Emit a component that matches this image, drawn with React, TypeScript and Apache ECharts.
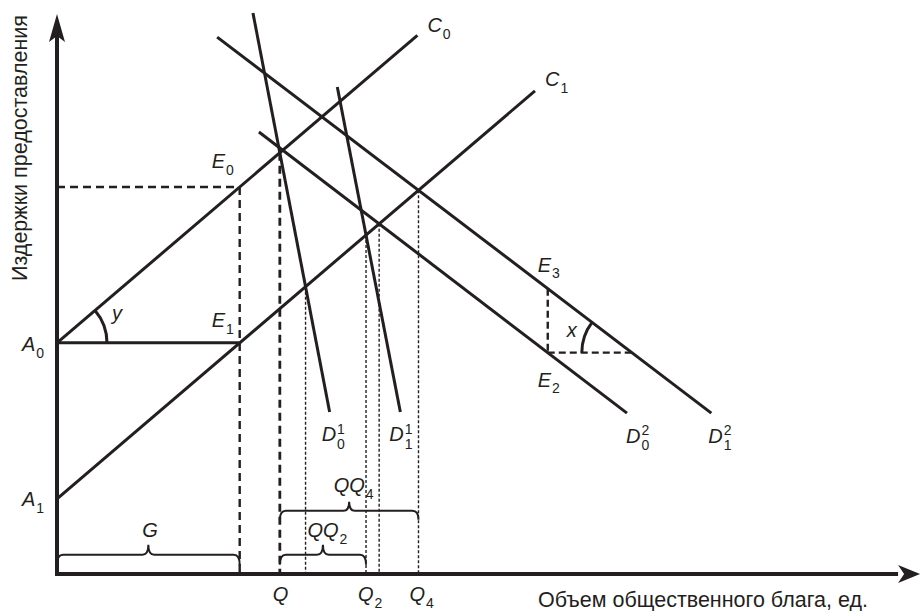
import React, { useEffect, useRef } from "react";
import * as echarts from "echarts";

type Pt = [number, number];

// ---------- values (x: quantity, y: cost) ----------
const interceptA0 = 42.1;
const interceptA1 = 13.7;
const costC0: Pt[] = [[0, 42.1], [42.3, 98.1]];
const costC1: Pt[] = [[0, 13.7], [56.1, 88.0]];
const demandD01: Pt[] = [[23.0, 102.2], [32.0, 29.5]];
const demandD11: Pt[] = [[32.9, 88.7], [40.3, 29.5]];
const demandD02: Pt[] = [[23.7, 80.5], [66.9, 29.3]];
const demandD12: Pt[] = [[18.8, 97.8], [76.8, 29.3]];
const shiftX = 57.6; // quantity at which E2 / E3 are marked
const axisEnds = { x: 101.3, y: 102.0 };
const braceLevels = [3.5, 11.5];
const xAxisTitle = "Объем общественного блага, ед.";
const yAxisTitle = "Издержки предоставления";

// ---------- styles ----------
const INK = "#231f20";
const FAMILY = "Liberation Sans";
const FONT = '"Liberation Sans", Arial, sans-serif';
const MAIN_SIZE = 20;
const SUB_SIZE = 14;

// ---------- geometry helpers ----------
const slope = (l: Pt[]) => (l[1][1] - l[0][1]) / (l[1][0] - l[0][0]);
const yAt = (l: Pt[], x: number) => l[0][1] + slope(l) * (x - l[0][0]);
const xAt = (l: Pt[], y: number) => l[0][0] + (y - l[0][1]) / slope(l);
const cross = (a: Pt[], b: Pt[]): Pt => {
  const ma = slope(a), mb = slope(b);
  const ba = a[0][1] - ma * a[0][0], bb = b[0][1] - mb * b[0][0];
  const x = (bb - ba) / (ma - mb);
  return [x, ma * x + ba];
};

const G = xAt(costC1, interceptA0);
const E1: Pt = [G, interceptA0];
const E0: Pt = [G, yAt(costC0, G)];
const P0 = cross(costC0, demandD01);
const Q = P0[0];
const P1 = cross(costC1, demandD01);
const P2 = cross(costC1, demandD11);
const P3 = cross(costC1, demandD02);
const P4 = cross(costC1, demandD12);
const Q2 = P2[0];
const Q4 = P4[0];
const E2: Pt = [shiftX, yAt(demandD02, shiftX)];
const E3: Pt = [shiftX, yAt(demandD12, shiftX)];
const F: Pt = [xAt(demandD12, E2[1]), E2[1]];

const seg = (pts: Pt[], width: number, type: any, z: number) => ({
  type: "line",
  data: pts,
  symbol: "none",
  showSymbol: false,
  clip: false,
  silent: true,
  z,
  lineStyle: { color: INK, width, type, cap: "butt" },
});

type Lab = { at: Pt; dx: number; dy: number; main: string; sub?: string; sup?: string };
const labels: Lab[] = [
  { at: E0, dx: -28, dy: -35.6, main: "E", sub: "0" },
  { at: E1, dx: -28, dy: -32.6, main: "E", sub: "1" },
  { at: E3, dx: -10, dy: -34, main: "E", sub: "3" },
  { at: E2, dx: -10, dy: 17, main: "E", sub: "2" },
  { at: costC0[1], dx: 10, dy: -20.6, main: "C", sub: "0" },
  { at: costC1[1], dx: 10, dy: -21.6, main: "C", sub: "1" },
  { at: [0, interceptA0], dx: -35, dy: -8.6, main: "A", sub: "0" },
  { at: [0, interceptA1], dx: -35, dy: -9.6, main: "A", sub: "1" },
  { at: demandD01[1], dx: -8, dy: 12.4, main: "D", sub: "0", sup: "1" },
  { at: demandD11[1], dx: -11, dy: 12.4, main: "D", sub: "1", sup: "1" },
  { at: demandD02[1], dx: -1, dy: 12.4, main: "D", sub: "0", sup: "2" },
  { at: demandD12[1], dx: -3, dy: 12.4, main: "D", sub: "1", sup: "2" },
  { at: [Q, 0], dx: -7, dy: 10.4, main: "Q" },
  { at: [Q2, 0], dx: -8, dy: 10.4, main: "Q", sub: "2" },
  { at: [Q4, 0], dx: -9, dy: 10.4, main: "Q", sub: "4" },
  { at: [G / 2, braceLevels[0]], dx: -6, dy: -34.6, main: "G" },
  { at: [(Q + Q2) / 2, braceLevels[0]], dx: -15.5, dy: -34.6, main: "QQ", sub: "2" },
  { at: [(Q + Q4) / 2, braceLevels[1]], dx: -15.5, dy: -35.6, main: "QQ", sub: "4" },
  { at: [0, interceptA0], dx: 55, dy: -39.5, main: "y" },
  { at: F, dx: -65, dy: -33, main: "x" },
];

const braces: { from: number; to: number; level: number; h: number }[] = [
  { from: 0, to: G, level: braceLevels[0], h: 10 },
  { from: Q, to: Q2, level: braceLevels[0], h: 10 },
  { from: Q, to: Q4, level: braceLevels[1], h: 9 },
];

function bracePath(x1: number, x2: number, y: number, h: number) {
  const xm = (x1 + x2) / 2;
  const r = 6;
  return `M${x1} ${y + h} Q${x1} ${y} ${x1 + r} ${y} L${xm - r} ${y} Q${xm} ${y} ${xm} ${y - h} Q${xm} ${y} ${xm + r} ${y} L${x2 - r} ${y} Q${x2} ${y} ${x2} ${y + h}`;
}

let measureCtx: CanvasRenderingContext2D | null = null;
function textWidth(t: string) {
  if (!measureCtx) measureCtx = document.createElement("canvas").getContext("2d");
  if (!measureCtx) return t.length * 12;
  measureCtx.font = `italic ${MAIN_SIZE}px "${FAMILY}"`;
  return measureCtx.measureText(t).width;
}

function buildOption() {
  const series: any[] = [
    // solid curves
    seg(costC0, 3, "solid", 5),
    seg(costC1, 3, "solid", 5),
    seg(demandD01, 3, "solid", 5),
    seg(demandD11, 3, "solid", 5),
    seg(demandD02, 3, "solid", 5),
    seg(demandD12, 3, "solid", 5),
    seg([[0, interceptA0], E1], 3, "solid", 5),
    // dashed guides
    seg([[0, E0[1]], E0], 2.4, [8, 5], 3),
    seg([E0, [G, 0]], 2.4, [8, 5], 3),
    seg([P0, [Q, 0]], 2.8, [8, 5], 3),
    seg([E3, E2], 2.4, [7, 4], 3),
    seg([E2, F], 2.4, [7, 4], 3),
    // thin dotted guides
    seg([P1, [P1[0], 0]], 1.4, [3, 2], 2),
    seg([P2, [P2[0], 0]], 1.4, [3, 2], 2),
    seg([P3, [P3[0], 0]], 1.4, [3, 2], 2),
    seg([P4, [P4[0], 0]], 1.4, [3, 2], 2),
    // axes with arrows
    {
      type: "custom",
      clip: false,
      silent: true,
      z: 6,
      data: [[0, 0]],
      renderItem: (_p: any, api: any) => {
        const o = api.coord([0, 0]);
        const ty = api.coord([0, axisEnds.y]);
        const tx = api.coord([axisEnds.x, 0]);
        const len = 28, half = 8, notch = 6;
        return {
          type: "group",
          children: [
            { type: "line", shape: { x1: o[0], y1: o[1] + 2, x2: o[0], y2: ty[1] + len - notch }, style: { stroke: INK, lineWidth: 4 } },
            { type: "line", shape: { x1: o[0] - 2, y1: o[1], x2: tx[0] - len + notch, y2: o[1] }, style: { stroke: INK, lineWidth: 4 } },
            {
              type: "polygon",
              shape: { points: [[ty[0], ty[1]], [ty[0] + half, ty[1] + len], [ty[0], ty[1] + len - notch], [ty[0] - half, ty[1] + len]] },
              style: { fill: INK },
            },
            {
              type: "polygon",
              shape: { points: [[tx[0], tx[1]], [tx[0] - len + 6, tx[1] - half - 1], [tx[0] - len + 6 + notch, tx[1]], [tx[0] - len + 6, tx[1] + half + 1]] },
              style: { fill: INK },
            },
          ],
        };
      },
    },
    // angle arcs
    {
      type: "custom",
      clip: false,
      silent: true,
      z: 6,
      data: [[0, interceptA0], F],
      renderItem: (p: any, api: any) => {
        if (p.dataIndex === 0) {
          const c = api.coord([0, interceptA0]);
          const q = api.coord(costC0[1]);
          const ang = Math.atan2(q[1] - c[1], q[0] - c[0]);
          return { type: "arc", shape: { cx: c[0], cy: c[1], r: 50, startAngle: ang, endAngle: 0, clockwise: true }, style: { stroke: INK, lineWidth: 3, fill: "none" } };
        }
        const c = api.coord(F);
        const q = api.coord(demandD12[0]);
        const ang = Math.atan2(q[1] - c[1], q[0] - c[0]) + Math.PI * 2;
        return { type: "arc", shape: { cx: c[0], cy: c[1], r: 50, startAngle: Math.PI, endAngle: ang, clockwise: true }, style: { stroke: INK, lineWidth: 3, fill: "none" } };
      },
    },
    // braces
    {
      type: "custom",
      clip: false,
      silent: true,
      z: 6,
      data: braces.map((b) => [b.from, b.level]),
      renderItem: (p: any, api: any) => {
        const b = braces[p.dataIndex];
        const a = api.coord([b.from, b.level]);
        const e = api.coord([b.to, b.level]);
        return { type: "path", shape: { pathData: bracePath(a[0], e[0], a[1], b.h) }, style: { stroke: INK, lineWidth: 2, fill: "none" } };
      },
    },
    // labels: italic letter + upright sub/superscript indices
    {
      type: "custom",
      clip: false,
      silent: true,
      z: 10,
      data: labels.map((l) => l.at),
      renderItem: (p: any, api: any) => {
        const l = labels[p.dataIndex];
        const c = api.coord(l.at);
        const x = c[0] + l.dx;
        const y = c[1] + l.dy;
        const w = textWidth(l.main);
        const children: any[] = [
          {
            type: "text",
            x,
            y,
            style: { text: l.main, fontFamily: FONT, fontStyle: "italic", fontSize: MAIN_SIZE, lineHeight: 20, fill: INK, align: "left", verticalAlign: "top" },
          },
        ];
        if (l.sub) {
          children.push({
            type: "text",
            x: x + w + 1,
            y: y + (l.sup ? 13.5 : 12.8),
            style: { text: l.sub, fontFamily: FONT, fontSize: SUB_SIZE, lineHeight: 12, fill: INK, align: "left", verticalAlign: "top" },
          });
        }
        if (l.sup) {
          children.push({
            type: "text",
            x: x + w + 1,
            y: y - 1.5,
            style: { text: l.sup, fontFamily: FONT, fontSize: SUB_SIZE, lineHeight: 12, fill: INK, align: "left", verticalAlign: "top" },
          });
        }
        return { type: "group", children };
      },
    },
  ];

  return {
    animation: false,
    backgroundColor: "#ffffff",
    grid: { left: 57, right: 12, top: 25, bottom: 37 },
    xAxis: { type: "value", min: 0, max: 100, show: false },
    yAxis: { type: "value", min: 0, max: 100, show: false },
    graphic: [
      {
        type: "text",
        x: 703,
        y: 600,
        silent: true,
        style: { text: xAxisTitle, fontFamily: FONT, fontSize: 21.5, fill: INK, align: "center", verticalAlign: "middle" },
      },
      {
        type: "text",
        x: 20,
        y: 148,
        rotation: Math.PI / 2,
        silent: true,
        style: { text: yAxisTitle, fontFamily: FONT, fontSize: 21.5, fill: INK, align: "center", verticalAlign: "middle" },
      },
    ],
    series,
  };
}

export default function App() {
  const ref = useRef<HTMLDivElement>(null);
  useEffect(() => {
    if (!ref.current) return;
    const chart = echarts.init(ref.current, undefined, { renderer: "svg" });
    chart.setOption(buildOption() as any);
    return () => chart.dispose();
  }, []);
  return (
    <div
      ref={ref}
      style={{ position: "fixed", left: 0, top: 0, width: 921, height: 611, background: "#fff" }}
    />
  );
}
